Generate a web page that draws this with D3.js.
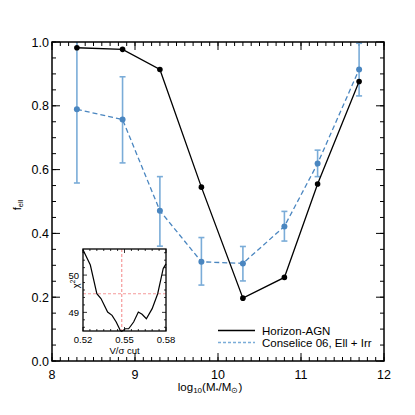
<!DOCTYPE html>
<html>
<head>
<meta charset="utf-8">
<script src="https://cdn.jsdelivr.net/npm/d3@7"></script>
<style>
  body { margin: 0; background: #fff; }
  text { font-family: "Liberation Sans", Arial, sans-serif; fill: #000; }
</style>
</head>
<body>
<svg id="chart" width="415" height="415"></svg>
<script>
// main data
var logMass = [8.3, 8.85, 9.3, 9.8, 10.3, 10.8, 11.2, 11.7];
var horizonAGN = [0.982, 0.977, 0.914, 0.545, 0.197, 0.262, 0.555, 0.876];
var conselice = [0.789, 0.757, 0.471, 0.311, 0.306, 0.422, 0.619, 0.914];
var conseliceLo = [0.558, 0.621, 0.360, 0.238, 0.251, 0.376, 0.578, 0.831];
var conseliceHi = [1.02, 0.891, 0.578, 0.387, 0.359, 0.469, 0.661, 0.996];
var xTicks = [8, 9, 10, 11, 12];
var yTicks = [0.0, 0.2, 0.4, 0.6, 0.8, 1.0];
var legendLabels = ['Horizon-AGN', 'Conselice 06, Ell + Irr'];

// inset data (chi^2 vs V/sigma cut)
var vsigCut = [0.520, 0.5253, 0.530, 0.533, 0.5378, 0.541, 0.544, 0.547, 0.548, 0.5506,
               0.553, 0.5566, 0.560, 0.5627, 0.5658, 0.570, 0.574, 0.578, 0.580];
var chi2 = [50.68, 50.27, 49.5, 49.37, 49.01, 48.92, 48.74, 48.51, 48.49, 48.56,
            48.56, 48.74, 49.01, 48.95, 48.83, 49.1, 49.5, 50.18, 50.3];
var insetXTicks = [0.52, 0.55, 0.58];
var insetYTicks = [49, 50];
var bestCut = 0.548, chi2Level = 49.5;

var blue = '#4a86c0', blueErr = '#7aacd8', pink = '#f59a9a';

var svg = d3.select('#chart');
var m = { left: 52, right: 384, top: 42, bottom: 361 };

var x = d3.scaleLinear().domain([8, 12]).range([m.left, m.right]);
var y = d3.scaleLinear().domain([0, 1]).range([m.bottom, m.top]);

svg.append('defs').append('clipPath').attr('id', 'clip')
    .append('rect')
    .attr('x', m.left).attr('y', m.top)
    .attr('width', m.right - m.left).attr('height', m.bottom - m.top);

// ticks on all four sides, pointing in
function addTicks(values, len) {
    var g = svg.append('g').attr('stroke', '#000').attr('stroke-width', 1);
    values.x.forEach(function (v) {
        g.append('line').attr('x1', x(v)).attr('x2', x(v)).attr('y1', m.bottom).attr('y2', m.bottom - len);
        g.append('line').attr('x1', x(v)).attr('x2', x(v)).attr('y1', m.top).attr('y2', m.top + len);
    });
    values.y.forEach(function (v) {
        g.append('line').attr('y1', y(v)).attr('y2', y(v)).attr('x1', m.left).attr('x2', m.left + len);
        g.append('line').attr('y1', y(v)).attr('y2', y(v)).attr('x1', m.right).attr('x2', m.right - len);
    });
}
addTicks({ x: d3.range(8, 12.001, 0.1), y: d3.range(0, 1.001, 0.05) }, 4);
addTicks({ x: xTicks, y: yTicks }, 8);

svg.selectAll('.xlab').data(xTicks).enter().append('text')
    .attr('x', d => x(d)).attr('y', m.bottom + 18)
    .attr('text-anchor', 'middle').attr('font-size', 12.5)
    .text(d => d);

svg.selectAll('.ylab').data(yTicks).enter().append('text')
    .attr('x', m.left - 3).attr('y', d => y(d) + 4.5)
    .attr('text-anchor', 'end').attr('font-size', 12.5)
    .text(d => d.toFixed(1));

// axis titles
var xt = svg.append('text').attr('x', 210).attr('y', 391)
    .attr('text-anchor', 'middle').attr('font-size', 11.5);
xt.append('tspan').text('log');
xt.append('tspan').attr('font-size', 8).attr('dy', 2).text('10');
xt.append('tspan').attr('dy', -2).text('(M');
xt.append('tspan').attr('font-size', 8).attr('dy', 2).text('*');
xt.append('tspan').attr('dy', -2).text('/M');
xt.append('tspan').attr('font-size', 8).attr('dy', 2).text('\u2299');
xt.append('tspan').attr('dy', -2).text(')');

var yt = svg.append('text').attr('transform', 'translate(21,205) rotate(-90)')
    .attr('text-anchor', 'middle').attr('font-size', 11);
yt.append('tspan').text('f');
yt.append('tspan').attr('font-size', 7.5).attr('dy', 2).text('ell');

var plot = svg.append('g').attr('clip-path', 'url(#clip)');

// Conselice: error bars, dashed line, points
var capW = 3;
logMass.forEach(function (d, i) {
    var eg = plot.append('g').attr('stroke', blueErr).attr('stroke-width', 1.6);
    eg.append('line').attr('x1', x(d)).attr('x2', x(d))
        .attr('y1', y(conseliceLo[i])).attr('y2', y(conseliceHi[i]));
    eg.append('line').attr('x1', x(d) - capW).attr('x2', x(d) + capW)
        .attr('y1', y(conseliceLo[i])).attr('y2', y(conseliceLo[i]));
    eg.append('line').attr('x1', x(d) - capW).attr('x2', x(d) + capW)
        .attr('y1', y(conseliceHi[i])).attr('y2', y(conseliceHi[i]));
});

var line = d3.line().x(d => x(d[0])).y(d => y(d[1]));

plot.append('path')
    .datum(d3.zip(logMass, conselice))
    .attr('d', line)
    .attr('fill', 'none').attr('stroke', blue).attr('stroke-width', 1.3)
    .attr('stroke-dasharray', '5,3');

plot.selectAll('.cpt').data(d3.zip(logMass, conselice)).enter().append('circle')
    .attr('cx', d => x(d[0])).attr('cy', d => y(d[1])).attr('r', 3)
    .attr('fill', blue);

plot.append('path')
    .datum(d3.zip(logMass, horizonAGN))
    .attr('d', line)
    .attr('fill', 'none').attr('stroke', '#000').attr('stroke-width', 1.3);

plot.selectAll('.hpt').data(d3.zip(logMass, horizonAGN)).enter().append('circle')
    .attr('cx', d => x(d[0])).attr('cy', d => y(d[1])).attr('r', 2.8)
    .attr('fill', '#000');

svg.append('rect')
    .attr('x', m.left).attr('y', m.top)
    .attr('width', m.right - m.left).attr('height', m.bottom - m.top)
    .attr('fill', 'none').attr('stroke', '#000').attr('stroke-width', 1.5);

// legend
var lg = svg.append('g');
lg.append('line').attr('x1', 218).attr('x2', 255).attr('y1', 330.5).attr('y2', 330.5)
    .attr('stroke', '#000').attr('stroke-width', 1.3);
lg.append('line').attr('x1', 218).attr('x2', 255).attr('y1', 342.5).attr('y2', 342.5)
    .attr('stroke', blueErr).attr('stroke-width', 1.3).attr('stroke-dasharray', '3,2');
lg.selectAll('text').data(legendLabels).enter().append('text')
    .attr('x', 262).attr('y', (d, i) => 334.5 + i * 12)
    .attr('font-size', 11.5).text(d => d);

// inset
var im = { left: 83, right: 166, top: 249, bottom: 331 };
var ix = d3.scaleLinear().domain([0.52, 0.58]).range([im.left, im.right]);
var iy = d3.scaleLinear().domain([48.5, 50.7]).range([im.bottom, im.top]);
var ins = svg.append('g');

ins.append('rect')
    .attr('x', im.left).attr('y', im.top)
    .attr('width', im.right - im.left).attr('height', im.bottom - im.top)
    .attr('fill', '#fff');

var it = ins.append('g').attr('stroke', '#000').attr('stroke-width', 0.8);
d3.range(0.52, 0.5801, 0.005).forEach(function (v, i) {
    var len = (i % 6 === 0) ? 4 : 2;
    it.append('line').attr('x1', ix(v)).attr('x2', ix(v)).attr('y1', im.bottom).attr('y2', im.bottom - len);
    it.append('line').attr('x1', ix(v)).attr('x2', ix(v)).attr('y1', im.top).attr('y2', im.top + len);
});
d3.range(48.6, 50.71, 0.2).forEach(function (v) {
    var len = (Math.abs(v - Math.round(v)) < 0.01) ? 4 : 2;
    it.append('line').attr('y1', iy(v)).attr('y2', iy(v)).attr('x1', im.left).attr('x2', im.left + len);
    it.append('line').attr('y1', iy(v)).attr('y2', iy(v)).attr('x1', im.right).attr('x2', im.right - len);
});

ins.append('line').attr('x1', ix(bestCut)).attr('x2', ix(bestCut))
    .attr('y1', im.top).attr('y2', im.bottom)
    .attr('stroke', pink).attr('stroke-width', 1.2).attr('stroke-dasharray', '3,2');
ins.append('line').attr('x1', im.left).attr('x2', im.right)
    .attr('y1', iy(chi2Level)).attr('y2', iy(chi2Level))
    .attr('stroke', pink).attr('stroke-width', 1.2).attr('stroke-dasharray', '3,2');

ins.append('path')
    .datum(d3.zip(vsigCut, chi2))
    .attr('d', d3.line().x(d => ix(d[0])).y(d => iy(d[1])))
    .attr('fill', 'none').attr('stroke', '#000').attr('stroke-width', 1.2);

ins.append('rect')
    .attr('x', im.left).attr('y', im.top)
    .attr('width', im.right - im.left).attr('height', im.bottom - im.top)
    .attr('fill', 'none').attr('stroke', '#000').attr('stroke-width', 1.3);

ins.selectAll('.ixl').data(insetXTicks).enter().append('text')
    .attr('x', d => ix(d)).attr('y', im.bottom + 12)
    .attr('text-anchor', 'middle').attr('font-size', 9.5)
    .text(d => d.toFixed(2));
ins.selectAll('.iyl').data(insetYTicks).enter().append('text')
    .attr('x', im.left - 4).attr('y', d => iy(d) + 3.5)
    .attr('text-anchor', 'end').attr('font-size', 9.5)
    .text(d => d);
ins.append('text').attr('x', (im.left + im.right) / 2).attr('y', im.bottom + 23)
    .attr('text-anchor', 'middle').attr('font-size', 9.5).text('V/\u03c3 cut');
var ct = ins.append('text').attr('transform', 'translate(' + (im.left - 4) + ',' + (im.top + 35) + ') rotate(-90)')
    .attr('text-anchor', 'middle').attr('font-size', 9.5);
ct.append('tspan').text('\u03c7');
ct.append('tspan').attr('font-size', 6.5).attr('dy', -4).text('2');
</script>
</body>
</html>
